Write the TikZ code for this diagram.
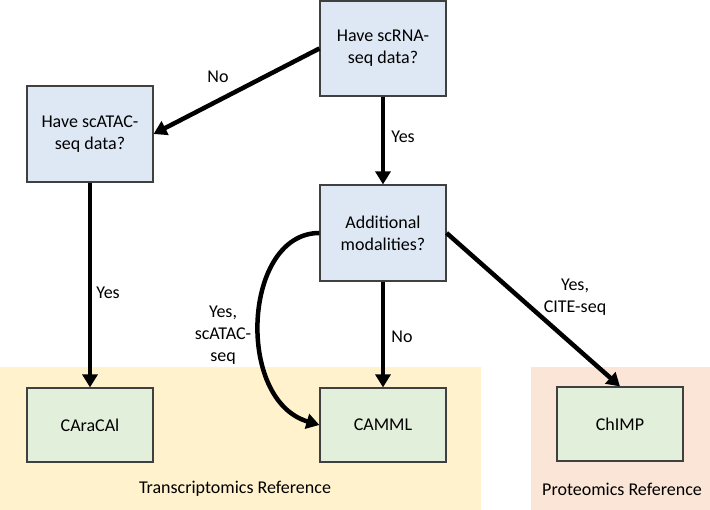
\documentclass[tikz,border=0pt]{standalone}
\usepackage{fontspec}
\setmainfont{Carlito}
\usetikzlibrary{arrows.meta}
\definecolor{qfill}{HTML}{DEE8F5}
\definecolor{mfill}{HTML}{E2EFDA}
\definecolor{tband}{HTML}{FFF2CC}
\definecolor{pband}{HTML}{FBE5D6}
\definecolor{boxline}{HTML}{404040}
\tikzset{
  question/.style={draw=boxline, line width=1.2pt, fill=qfill, minimum width=126pt, minimum height=96pt, align=center, inner sep=2pt},
  method/.style={draw=boxline, line width=1.2pt, fill=mfill, minimum width=126pt, minimum height=74pt, align=center, inner sep=2pt},
  conn/.style={line width=4.5pt, -{Triangle[length=13pt,width=15pt]}},
  lbl/.style={align=center, inner sep=0pt},
  bandtext/.style={inner sep=0pt}
}
\begin{document}
\begin{tikzpicture}[x=1pt,y=-1pt, every node/.append style={font=\fontsize{18}{22}\selectfont}]
\useasboundingbox (0,0) rectangle (710,510);
\fill[tband] (0,367) rectangle (481,510);
\fill[pband] (531,367) rectangle (710,510);
\node[bandtext] (tr) at (235,489) {Transcriptomics Reference};
\node[bandtext] (pr) at (622,489) {Proteomics Reference};

\node[question, minimum height=95pt] (q1) at (383,48.5) {Have scRNA-\\seq data?};
\node[question] (q2) at (90,134) {Have scATAC-\\seq data?};
\node[question] (q3) at (383,233) {Additional\\modalities?};
\node[method] (m1) at (90,425) {CAraCAl};
\node[method] (m2) at (383,425) {CAMML};
\node[method] (m3) at (620,424) {ChIMP};

\draw[conn] (q1.west) -- (q2.east);
\draw[conn] (q1.south) -- (q3.north);
\draw[conn] (q2.south) -- (m1.north);
\draw[conn] (q3.south) -- (m2.north);
\draw[conn] (q3.east) -- (m3.north);
\draw[conn] (q3.west) .. controls (243,233) and (235,400) .. (m2.west);

\node[lbl] (l1) at (218,77) {No};
\node[lbl] (l2) at (403,137) {Yes};
\node[lbl] (l3) at (108,293) {Yes};
\node[lbl] (l4) at (402,337) {No};
\node[lbl] (l5) at (223,335) {Yes,\\scATAC-\\seq};
\node[lbl] (l6) at (575,297) {Yes,\\CITE-seq};
\end{tikzpicture}
\end{document}
